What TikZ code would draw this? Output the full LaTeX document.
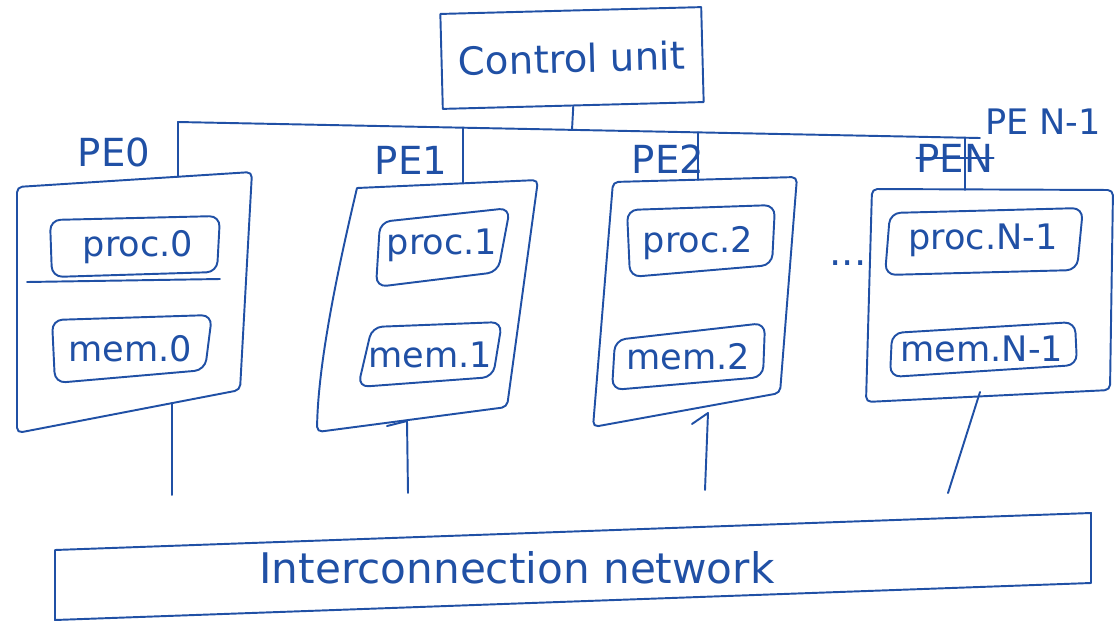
\documentclass[tikz,border=0pt]{standalone}
\usepackage{fontspec}
\setmainfont{DejaVu Sans}
\definecolor{ink}{RGB}{32,80,165}
\begin{document}
\begin{tikzpicture}[x=0.02cm,y=-0.02cm,
  ink/.style={draw=ink,line width=1.1pt,line cap=round,line join=round},
  pebox/.style={ink,rounded corners=3pt},
  inbox/.style={ink,rounded corners=6pt},
  wire/.style={ink},
  lbl/.style={text=ink,inner sep=0pt,font=\fontsize{22}{26}\selectfont},
  inlbl/.style={lbl,font=\fontsize{20}{24}\selectfont}]
\useasboundingbox (0,0) rectangle (1116,626);

% control unit and bus
\node[ink,lbl,rotate=1.5,minimum width=5.22cm,minimum height=1.9cm] (cu) at (572,58) {Control unit};
\coordinate (busL) at (178,122);
\coordinate (busR) at (980,138);
\coordinate (cuBus) at (572,129.9);
\coordinate (pe0top) at (178,177);
\coordinate (b1) at (463,127.7);
\coordinate (pe1top) at (463,183);
\coordinate (b2) at (698,132.4);
\coordinate (pe2top) at (698,180);
\coordinate (b3) at (965,137.7);
\coordinate (pe3top) at (965,190);
\draw[wire] (cu.south) -- (cuBus);
\draw[wire] (pe0top) -- (busL) -- (busR);
\draw[wire] (b1) -- (pe1top);
\draw[wire] (b2) -- (pe2top);
\draw[wire] (b3) -- (pe3top);

% labels
\node[lbl] (lpe0) at (114,152) {PE0};
\node[lbl] (lpe1) at (411,160) {PE1};
\node[lbl] (lpe2) at (668,159) {PE2};
\node[lbl,font=\fontsize{20}{24}\selectfont] (lpe3) at (1043,122) {PE N-1};
\node[lbl] (lpeold) at (955,158) {PEN};
\draw[wire] (lpeold.west) -- (lpeold.east);

% PE0
\coordinate (p0a) at (17,187);
\coordinate (p0b) at (252,172);
\coordinate (p0c) at (240,390);
\coordinate (p0d) at (17,433);
\draw[pebox] (p0a) -- (p0b) -- (p0c) -- (p0d) -- cycle;
\draw[wire] (27,282) -- (220,279);
\draw[inbox] (50,220) -- (220,216) -- (217,272) -- (52,277) -- cycle;
\draw[inbox] (52,320) -- (212,315) -- (205,370) -- (55,383) -- cycle;
\node[inlbl] (proc0) at (138,247) {proc.0};
\node[inlbl] (mem0) at (130,349) {mem.0};
\coordinate (p0out) at (172,403);
\coordinate (p0end) at (172,495);
\draw[wire] (p0out) -- (p0end);

% PE1
\coordinate (p1a) at (357,188);
\coordinate (p1b) at (538,180);
\coordinate (p1c) at (507,407);
\coordinate (p1d) at (317,432);
\draw[pebox] (p1a) -- (p1b) -- (p1c) -- (p1d) .. controls (318,360) and (340,260) .. (p1a);
\draw[inbox] (380,222) -- (510,208) -- (498,272) -- (376,287) -- cycle;
\draw[inbox] (372,327) -- (502,322) -- (493,377) -- (358,387) -- cycle;
\node[inlbl] (proc1) at (442,245) {proc.1};
\node[inlbl] (mem1) at (430,355) {mem.1};
\coordinate (p1out) at (407,421);
\coordinate (p1end) at (408,493);
\draw[wire] (387,426) -- (p1out) -- (p1end);

% PE2
\coordinate (p2a) at (613,182);
\coordinate (p2b) at (797,177);
\coordinate (p2c) at (780,393);
\coordinate (p2d) at (593,427);
\draw[pebox] (p2a) -- (p2b) -- (p2c) -- (p2d) -- cycle;
\draw[inbox] (627,210) -- (775,205) -- (772,265) -- (630,277) -- cycle;
\draw[inbox] (615,340) -- (765,323) -- (763,377) -- (612,390) -- cycle;
\node[inlbl] (proc2) at (698,243) {proc.2};
\node[inlbl] (mem2) at (688,357) {mem.2};
\coordinate (p2out) at (708,413);
\coordinate (p2end) at (705,490);
\draw[wire] (692,424) -- (p2out) -- (p2end);

% dots
\node[lbl] (dots) at (848,263) {...};

% PE N-1
\coordinate (p3a) at (872,189);
\coordinate (p3b) at (1113,190);
\coordinate (p3c) at (1110,390);
\coordinate (p3d) at (866,402);
\draw[pebox] (p3a) -- (p3b) -- (p3c) -- (p3d) -- cycle;
\draw[inbox] (890,213) -- (1083,208) -- (1077,270) -- (885,275) -- cycle;
\draw[inbox] (892,333) -- (1075,322) -- (1077,365) -- (890,377) -- cycle;
\node[inlbl] (proc3) at (983,240) {proc.N-1};
\node[inlbl] (mem3) at (982,349) {mem.N-1};
\coordinate (p3out) at (980,392);
\coordinate (p3end) at (948,493);
\draw[wire] (p3out) -- (p3end);

% interconnection network
\coordinate (na) at (55,550);
\coordinate (nb) at (1091,513);
\coordinate (nc) at (1091,583);
\coordinate (nd) at (55,620);
\draw[ink] (na) -- (nb) -- (nc) -- (nd) -- cycle;
\node[lbl,font=\fontsize{24}{28}\selectfont] (net) at (517,568) {Interconnection network};
\end{tikzpicture}
\end{document}
